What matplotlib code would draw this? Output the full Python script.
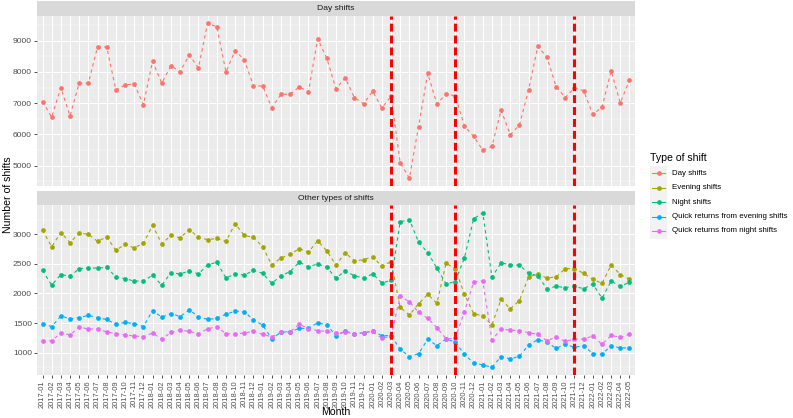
import numpy as np
import pandas as pd
import matplotlib
matplotlib.use('Agg')
import matplotlib.pyplot as plt
from matplotlib.patches import Rectangle
from matplotlib.ticker import MultipleLocator

plt.rcParams['font.family'] = ['Liberation Sans', 'DejaVu Sans']

W, H = 793, 418

months = pd.period_range('2017-01', '2022-05', freq='M').strftime('%Y-%m').tolist()
break_months = ['2020-03', '2020-10', '2021-11']

day_shifts = [7050, 6550, 7500, 6590, 7650, 7640, 8800, 8800, 7420, 7580,
              7620, 6950, 8340, 7640, 8200, 8000, 8540, 8130, 9550, 9450,
              8000, 8680, 8390, 7550, 7550, 6860, 7280, 7290, 7520, 7370,
              9060, 8430, 7460, 7810, 7180, 6980, 7380, 6850, 7220, 5100,
              4600, 6250, 7950, 6980, 7290, 7240, 6270, 5940, 5500, 5620,
              6780, 5990, 6300, 7430, 8820, 8470, 7530, 7180, 7490, 7400,
              6640, 6870, 8030, 7010, 7740]
evening_shifts = [3070, 2790, 3030, 2860, 3020, 3000, 2880, 2955, 2730, 2830,
                  2770, 2850, 3150, 2840, 2980, 2940, 3080, 2950, 2910, 2930,
                  2880, 3180, 2980, 2950, 2790, 2480, 2600, 2660, 2760, 2700,
                  2890, 2720, 2480, 2690, 2550, 2570, 2620, 2460, 2540, 1765,
                  1635, 1825, 1985, 1835, 2510, 2420, 1990, 1660, 1620, 1470,
                  1900, 1740, 1880, 2280, 2330, 2260, 2280, 2420, 2420, 2340,
                  2240, 2170, 2480, 2320, 2240]
night_shifts = [2390, 2140, 2320, 2290, 2420, 2430, 2430, 2440, 2280, 2250,
                2210, 2210, 2310, 2140, 2350, 2330, 2380, 2330, 2480, 2530,
                2260, 2330, 2310, 2390, 2340, 2170, 2300, 2370, 2530, 2450,
                2500, 2440, 2260, 2380, 2300, 2260, 2330, 2180, 2220, 3210,
                3250, 2870, 2690, 2430, 2160, 2200, 2600, 3260, 3365, 2275,
                2520, 2480, 2480, 2340, 2300, 2080, 2120, 2100, 2120, 2080,
                2160, 1920, 2210, 2120, 2190]
quick_evening = [1490, 1440, 1620, 1570, 1590, 1630, 1590, 1560, 1480, 1510,
                 1490, 1440, 1710, 1600, 1660, 1610, 1720, 1610, 1560, 1580,
                 1650, 1700, 1690, 1555, 1465, 1235, 1345, 1350, 1410, 1410,
                 1505, 1470, 1285, 1360, 1320, 1333, 1365, 1287, 1286, 1055,
                 933, 983, 1225, 1118, 1230, 1178, 970, 825, 792, 752,
                 933, 893, 939, 1129, 1219, 1174, 1073, 1140, 1090, 1118,
                 983, 972, 1118, 1079, 1079]
quick_night = [1190, 1200, 1330, 1300, 1430, 1400, 1400, 1350, 1320, 1300,
               1280, 1270, 1330, 1230, 1340, 1380, 1360, 1320, 1400, 1440,
               1320, 1320, 1330, 1360, 1310, 1265, 1343, 1354, 1478, 1405,
               1371, 1360, 1326, 1348, 1315, 1337, 1358, 1240, 1280, 1955,
               1860, 1680, 1580, 1420, 1235, 1240, 1690, 2190, 2215, 1217,
               1393, 1382, 1371, 1337, 1309, 1200, 1264, 1190, 1230, 1230,
               1280, 1140, 1290, 1260, 1310]

series_names = ['Day shifts', 'Evening shifts', 'Night shifts',
                'Quick returns from evening shifts', 'Quick returns from night shifts']
series_colors = ['#F8766D', '#A3A500', '#00BF7D', '#00B0F6', '#E76BF3']


def px_box(left, top, right, bottom):
    return [left / W, 1 - bottom / H, (right - left) / W, (bottom - top) / H]


def style_panel(ax, major, values):
    lo, hi = min(values), max(values)
    pad = (hi - lo) * 0.05
    ax.set_ylim(lo - pad, hi + pad)
    ax.set_xlim(-0.6, len(months) - 0.4)
    ax.set_facecolor('#EBEBEB')
    ax.yaxis.set_major_locator(MultipleLocator(major))
    ax.yaxis.set_minor_locator(MultipleLocator(major / 2))
    ax.set_xticks(range(len(months)))
    ax.grid(which='major', color='white', lw=0.75)
    ax.grid(which='minor', axis='y', color='white', lw=0.35)
    ax.set_axisbelow(True)
    for s in ax.spines.values():
        s.set_visible(False)
    ax.tick_params(which='major', length=2.2, width=0.6, color='#333333',
                   labelsize=6.1, labelcolor='#4D4D4D', pad=1.5)
    ax.tick_params(axis='x', labelsize=5.4)
    ax.tick_params(which='minor', length=0)


def strip(fig, box, label):
    sax = fig.add_axes(box)
    sax.set_facecolor('#D9D9D9')
    sax.set_xticks([])
    sax.set_yticks([])
    for s in sax.spines.values():
        s.set_visible(False)
    sax.text(0.5, 0.5, label, ha='center', va='center', fontsize=6.1, color='#1A1A1A',
             transform=sax.transAxes)


def draw_series(ax, values, color):
    ax.plot(range(len(values)), values, color=color, ls=(0, (3, 3)), lw=0.8,
            marker='o', ms=3.4, mew=0, zorder=3)


def main():
    fig = plt.figure(figsize=(W / 100, H / 100), dpi=100)

    strip(fig, px_box(37, 1, 635, 15.7), 'Day shifts')
    top = fig.add_axes(px_box(37, 15.7, 635, 186))
    style_panel(top, 1000, day_shifts)
    top.tick_params(axis='x', length=0, labelbottom=False)
    draw_series(top, day_shifts, series_colors[0])

    strip(fig, px_box(37, 191, 635, 205), 'Other types of shifts')
    bot = fig.add_axes(px_box(37, 205, 635, 375))
    others = [evening_shifts, night_shifts, quick_evening, quick_night]
    style_panel(bot, 500, sum(others, []))
    for vals, col in zip(others, series_colors[1:]):
        draw_series(bot, vals, col)
    bot.set_xticklabels(months, rotation=90)

    for ax in (top, bot):
        for m in break_months:
            ax.axvline(months.index(m), color='red', lw=2.2, ls=(0, (2.6, 1.3)), zorder=4)

    fig.text(336 / W, 1 - 412 / H, 'Month', ha='center', va='center', fontsize=7.6)
    fig.text(8 / W, 1 - 195 / H, 'Number of shifts', ha='center', va='center',
             rotation=90, fontsize=7.6)

    # legend drawn by hand in pixel space
    lax = fig.add_axes([0, 0, 1, 1], facecolor='none')
    lax.set_xlim(0, W)
    lax.set_ylim(H, 0)
    lax.axis('off')
    lax.text(650, 158, 'Type of shift', ha='left', va='center', fontsize=7.6)
    lax.add_patch(Rectangle((650, 166), 17, 72.5, color='#F2F2F2', lw=0))
    for k, (name, col) in enumerate(zip(series_names, series_colors)):
        y = 173.3 + k * 14.4
        lax.plot([652, 665], [y, y], color=col, lw=0.8)
        lax.plot([658.5], [y], 'o', color=col, ms=3.4, mew=0)
        lax.text(672, y, name, ha='left', va='center', fontsize=5.7)

    fig.savefig('out.png', dpi=100)


if __name__ == '__main__':
    main()
